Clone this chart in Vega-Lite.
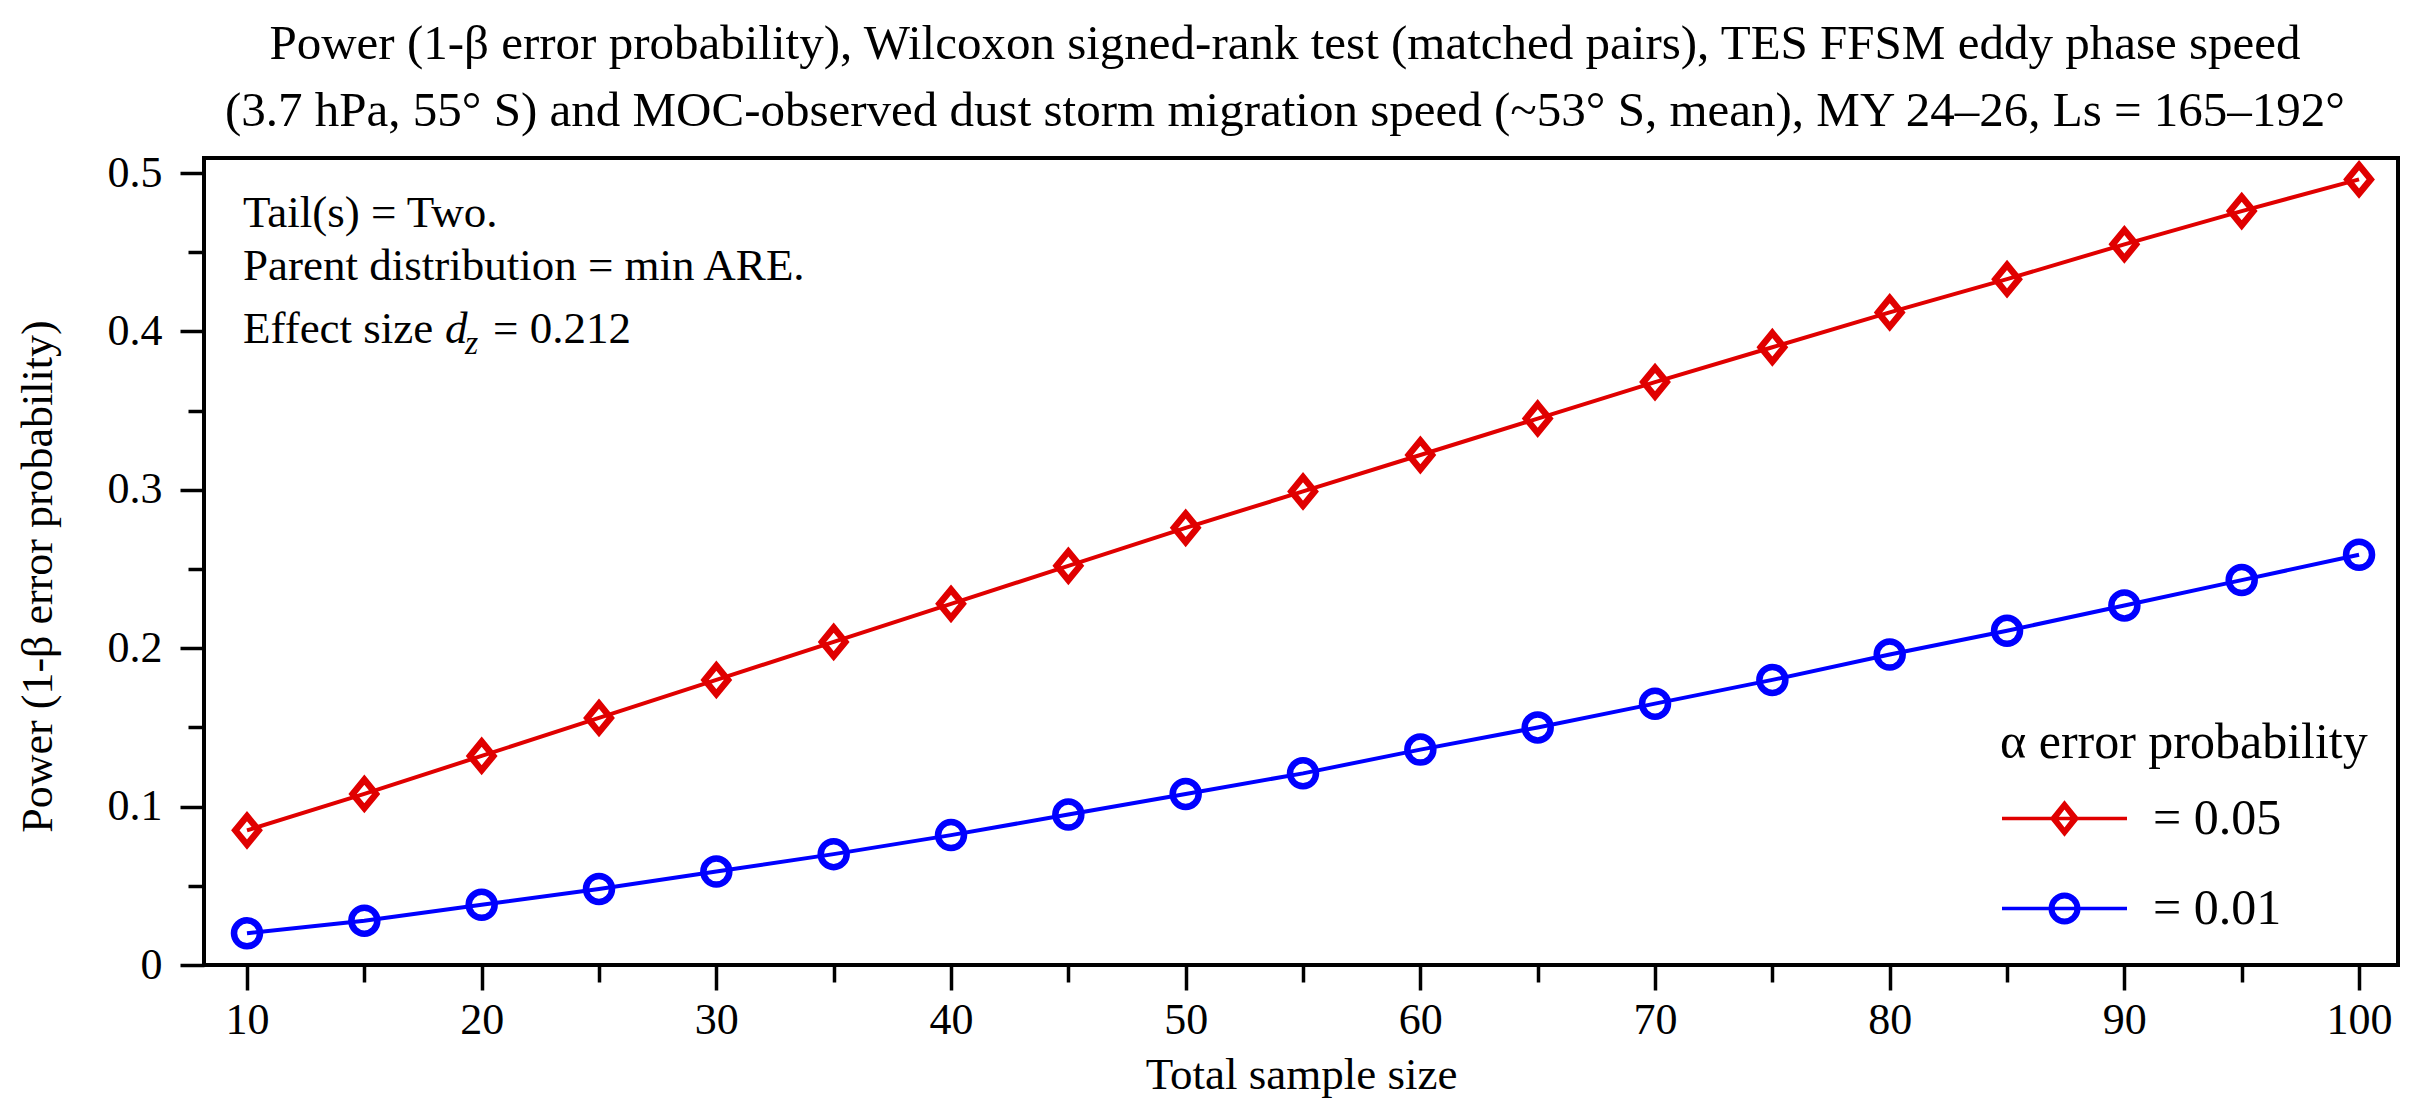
{
  "$schema": "https://vega.github.io/schema/vega-lite/v6.json",
  "width": 2194,
  "height": 807,
  "autosize": {"type": "none"},
  "padding": {"left": 204, "top": 158, "right": 22, "bottom": 143},
  "background": "white",
  "config": {
    "font": "Liberation Serif",
    "view": {"stroke": "black", "strokeWidth": 4},
    "axis": {
      "domain": false, "grid": false,
      "labelFont": "Liberation Serif", "titleFont": "Liberation Serif",
      "labelColor": "black", "titleColor": "black", "tickColor": "black",
      "tickWidth": 3.5, "labelFontSize": 44, "titleFontSize": 45, "titleFontWeight": "normal"
    }
  },
  "title": {
    "text": [
      "Power (1-β error probability), Wilcoxon signed-rank test (matched pairs), TES FFSM eddy phase speed",
      "(3.7 hPa, 55° S) and MOC-observed dust storm migration speed (~53° S, mean), MY 24–26, Ls = 165–192°"
    ],
    "font": "Liberation Serif", "fontSize": 49, "fontWeight": "normal", "color": "black",
    "lineHeight": 67, "anchor": "middle", "frame": "group", "offset": 15, "dx": -16
  },
  "datasets": {
    "power": [
      {"n": 10, "power": 0.085, "alpha": "= 0.05"},
      {"n": 15, "power": 0.108, "alpha": "= 0.05"},
      {"n": 20, "power": 0.132, "alpha": "= 0.05"},
      {"n": 25, "power": 0.156, "alpha": "= 0.05"},
      {"n": 30, "power": 0.180, "alpha": "= 0.05"},
      {"n": 35, "power": 0.204, "alpha": "= 0.05"},
      {"n": 40, "power": 0.228, "alpha": "= 0.05"},
      {"n": 45, "power": 0.252, "alpha": "= 0.05"},
      {"n": 50, "power": 0.276, "alpha": "= 0.05"},
      {"n": 55, "power": 0.299, "alpha": "= 0.05"},
      {"n": 60, "power": 0.322, "alpha": "= 0.05"},
      {"n": 65, "power": 0.345, "alpha": "= 0.05"},
      {"n": 70, "power": 0.368, "alpha": "= 0.05"},
      {"n": 75, "power": 0.390, "alpha": "= 0.05"},
      {"n": 80, "power": 0.412, "alpha": "= 0.05"},
      {"n": 85, "power": 0.433, "alpha": "= 0.05"},
      {"n": 90, "power": 0.455, "alpha": "= 0.05"},
      {"n": 95, "power": 0.476, "alpha": "= 0.05"},
      {"n": 100, "power": 0.496, "alpha": "= 0.05"},
      {"n": 10, "power": 0.020, "alpha": "= 0.01"},
      {"n": 15, "power": 0.028, "alpha": "= 0.01"},
      {"n": 20, "power": 0.038, "alpha": "= 0.01"},
      {"n": 25, "power": 0.048, "alpha": "= 0.01"},
      {"n": 30, "power": 0.059, "alpha": "= 0.01"},
      {"n": 35, "power": 0.070, "alpha": "= 0.01"},
      {"n": 40, "power": 0.082, "alpha": "= 0.01"},
      {"n": 45, "power": 0.095, "alpha": "= 0.01"},
      {"n": 50, "power": 0.108, "alpha": "= 0.01"},
      {"n": 55, "power": 0.121, "alpha": "= 0.01"},
      {"n": 60, "power": 0.136, "alpha": "= 0.01"},
      {"n": 65, "power": 0.150, "alpha": "= 0.01"},
      {"n": 70, "power": 0.165, "alpha": "= 0.01"},
      {"n": 75, "power": 0.180, "alpha": "= 0.01"},
      {"n": 80, "power": 0.196, "alpha": "= 0.01"},
      {"n": 85, "power": 0.211, "alpha": "= 0.01"},
      {"n": 90, "power": 0.227, "alpha": "= 0.01"},
      {"n": 95, "power": 0.243, "alpha": "= 0.01"},
      {"n": 100, "power": 0.259, "alpha": "= 0.01"}
    ]
  },
  "layer": [
    {
      "data": {"name": "power"},
      "mark": {"type": "line", "strokeWidth": 4},
      "encoding": {
        "x": {
          "field": "n", "type": "quantitative",
          "scale": {"domain": [8.168, 101.66], "nice": false, "zero": false},
          "axis": {
            "title": "Total sample size",
            "values": [10, 15, 20, 25, 30, 35, 40, 45, 50, 55, 60, 65, 70, 75, 80, 85, 90, 95, 100],
            "labelExpr": "datum.value % 10 === 0 ? datum.label : ''",
            "tickSize": {"condition": {"test": "datum.value % 10 === 0", "value": 25}, "value": 17},
            "labelPadding": 8, "labelBaseline": "top",
            "titleY": 123, "titleBaseline": "alphabetic"
          }
        },
        "y": {
          "field": "power", "type": "quantitative",
          "scale": {"domain": [0, 0.5095], "nice": false, "zero": true},
          "axis": {
            "title": "Power (1-β error probability)",
            "values": [0, 0.05, 0.1, 0.15, 0.2, 0.25, 0.3, 0.35, 0.4, 0.45, 0.5],
            "format": ".1~f",
            "labelExpr": "round(datum.value * 100) % 10 === 0 ? datum.label : ''",
            "tickSize": {"condition": {"test": "round(datum.value * 100) % 10 === 0", "value": 24}, "value": 16},
            "labelPadding": 18,
            "titleFontSize": 44,
            "titleX": -166, "titleY": 418, "titleAngle": 270,
            "titleAlign": "center", "titleBaseline": "middle"
          }
        },
        "color": {
          "field": "alpha", "type": "nominal",
          "scale": {"domain": ["= 0.05", "= 0.01"], "range": ["#e00000", "#0000ff"]},
          "legend": {
            "title": "α error probability",
            "orient": "none", "legendX": 1796, "legendY": 560,
            "padding": 0,
            "titleFont": "Liberation Serif", "titleFontSize": 50, "titleFontWeight": "normal", "titleColor": "black",
            "titlePadding": -14, "titleLimit": 2000,
            "labelFont": "Liberation Serif", "labelFontSize": 50, "labelColor": "black",
            "labelOffset": 24, "labelLimit": 2000,
            "symbolSize": 15625, "symbolStrokeWidth": 3.5, "symbolFillColor": "transparent",
            "rowPadding": -18,
            "encode": {
              "symbols": {
                "update": {
                  "shape": {"signal": "datum.value === '= 0.05' ? 'M-1,0H1M0,-0.248L0.2,0L0,0.248L-0.2,0ZM0,-0.19L0.145,0L0,0.19L-0.145,0Z' : 'M-1,0H1M0.228,0A0.228,0.228,0,1,1,-0.228,0A0.228,0.228,0,1,1,0.228,0ZM0.188,0A0.188,0.188,0,1,1,-0.188,0A0.188,0.188,0,1,1,0.188,0Z'"},
                  "size": {"value": 15625},
                  "strokeWidth": {"value": 3.5},
                  "fill": {"value": "transparent"}
                }
              }
            }
          }
        }
      }
    },
    {
      "data": {"name": "power"},
      "transform": [{"filter": "datum.alpha === '= 0.05'"}],
      "mark": {"type": "point", "filled": false, "strokeWidth": 6.5, "size": 676, "opacity": 1, "color": "#e00000", "shape": "M0,-1.1L0.9,0L0,1.1L-0.9,0Z"},
      "encoding": {
        "x": {"field": "n", "type": "quantitative"},
        "y": {"field": "power", "type": "quantitative"}
      }
    },
    {
      "data": {"name": "power"},
      "transform": [{"filter": "datum.alpha === '= 0.01'"}],
      "mark": {"type": "point", "filled": false, "strokeWidth": 6.5, "size": 676, "opacity": 1, "color": "#0000ff", "shape": "circle"},
      "encoding": {
        "x": {"field": "n", "type": "quantitative"},
        "y": {"field": "power", "type": "quantitative"}
      }
    },
    {
      "data": {"values": [{"note": "Tail(s) = Two."}]},
      "mark": {"type": "text", "align": "left", "baseline": "alphabetic", "fontSize": 45, "font": "Liberation Serif", "color": "black"},
      "encoding": {
        "x": {"datum": 9.83, "type": "quantitative"},
        "y": {"datum": 0.4659, "type": "quantitative"},
        "text": {"field": "note"}
      }
    },
    {
      "data": {"values": [{"note": "Parent distribution = min ARE."}]},
      "mark": {"type": "text", "align": "left", "baseline": "alphabetic", "fontSize": 45, "font": "Liberation Serif", "color": "black"},
      "encoding": {
        "x": {"datum": 9.83, "type": "quantitative"},
        "y": {"datum": 0.4325, "type": "quantitative"},
        "text": {"field": "note"}
      }
    },
    {
      "data": {"values": [{"note": "Effect size"}]},
      "mark": {"type": "text", "align": "left", "baseline": "alphabetic", "fontSize": 45, "font": "Liberation Serif", "color": "black"},
      "encoding": {
        "x": {"datum": 9.83, "type": "quantitative"},
        "y": {"datum": 0.3927, "type": "quantitative"},
        "text": {"field": "note"}
      }
    },
    {
      "data": {"values": [{"note": "d"}]},
      "mark": {"type": "text", "align": "left", "baseline": "alphabetic", "fontSize": 45, "fontStyle": "italic", "font": "Liberation Serif", "color": "black", "dx": 202},
      "encoding": {
        "x": {"datum": 9.83, "type": "quantitative"},
        "y": {"datum": 0.3927, "type": "quantitative"},
        "text": {"field": "note"}
      }
    },
    {
      "data": {"values": [{"note": "z"}]},
      "mark": {"type": "text", "align": "left", "baseline": "alphabetic", "fontSize": 34, "fontStyle": "italic", "font": "Liberation Serif", "color": "black", "dx": 222, "dy": 11},
      "encoding": {
        "x": {"datum": 9.83, "type": "quantitative"},
        "y": {"datum": 0.3927, "type": "quantitative"},
        "text": {"field": "note"}
      }
    },
    {
      "data": {"values": [{"note": "= 0.212"}]},
      "mark": {"type": "text", "align": "left", "baseline": "alphabetic", "fontSize": 45, "font": "Liberation Serif", "color": "black", "dx": 250},
      "encoding": {
        "x": {"datum": 9.83, "type": "quantitative"},
        "y": {"datum": 0.3927, "type": "quantitative"},
        "text": {"field": "note"}
      }
    }
  ]
}
